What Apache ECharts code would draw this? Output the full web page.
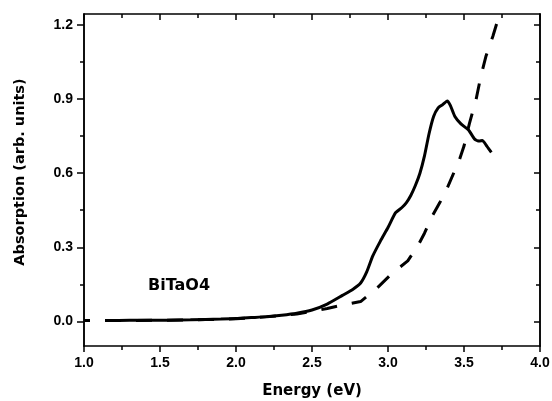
<!DOCTYPE html>
<html>
<head>
<meta charset="utf-8">
<script src="https://cdn.jsdelivr.net/npm/echarts@6/dist/echarts.min.js"></script>
<style>
  html, body { margin: 0; padding: 0; background: #fff; }
  #chart { width: 552px; height: 401px; }
</style>
</head>
<body>
<div id="chart"></div>
<script>
// measured spectrum (solid)
const solidX = [1.15, 1.3, 1.5, 1.7, 1.9, 2.0, 2.1, 2.2, 2.3, 2.4, 2.5, 2.6, 2.7, 2.77, 2.82, 2.86, 2.9, 2.95, 3.0, 3.05, 3.09, 3.12, 3.15, 3.18, 3.21, 3.24, 3.27, 3.3, 3.33, 3.36, 3.39, 3.41, 3.44, 3.48, 3.53, 3.57, 3.6, 3.62, 3.65, 3.68];
const solidY = [0.003, 0.004, 0.004, 0.006, 0.009, 0.011, 0.015, 0.019, 0.025, 0.033, 0.046, 0.07, 0.105, 0.13, 0.155, 0.2, 0.265, 0.325, 0.38, 0.44, 0.46, 0.48, 0.51, 0.55, 0.6, 0.67, 0.76, 0.83, 0.865, 0.878, 0.893, 0.875, 0.83, 0.8, 0.775, 0.738, 0.73, 0.733, 0.71, 0.684];

// calculated spectrum (dashed)
const dashX = [1.0, 1.2, 1.5, 1.8, 2.0, 2.2, 2.4, 2.5, 2.6, 2.7, 2.82, 2.92, 3.02, 3.13, 3.2, 3.24, 3.29, 3.34, 3.39, 3.47, 3.5, 3.535, 3.58, 3.61, 3.645, 3.69, 3.73, 3.76];
const dashY = [0.003, 0.003, 0.004, 0.007, 0.01, 0.018, 0.03, 0.04, 0.052, 0.066, 0.08, 0.13, 0.19, 0.245, 0.31, 0.357, 0.425, 0.48, 0.54, 0.655, 0.71, 0.8, 0.9, 0.99, 1.075, 1.155, 1.236, 1.3];

const yMajorTicks = [0, 0.3, 0.6, 0.9, 1.2];
const yMinorTicks = [0.15, 0.45, 0.75, 1.05];

const chart = echarts.init(document.getElementById('chart'));

const font = 'Liberation Sans, Arial, sans-serif';
const titleFont = 'DejaVu Sans, sans-serif';
const black = '#000';

function yAxis(position, ticks, len, inside, labels) {
  return {
    type: 'value',
    position: position,
    min: -0.1,
    max: 1.245,
    axisLine: { show: true, onZero: false, lineStyle: { color: black, width: 1.5 } },
    axisTick: { show: true, inside: inside, length: len, customValues: ticks, lineStyle: { color: black, width: 1.5 } },
    axisLabel: {
      show: labels,
      customValues: ticks,
      formatter: v => v.toFixed(1),
      color: black, fontFamily: font, fontWeight: 'bold', fontSize: 14, margin: 11
    },
    splitLine: { show: false }
  };
}

const option = {
  animation: false,
  backgroundColor: '#fff',
  grid: { left: 84, right: 12, top: 14, bottom: 55, outerBoundsMode: 'none' },
  xAxis: [
    {
      type: 'value', position: 'bottom', min: 1, max: 4, interval: 0.5,
      name: 'Energy (eV)', nameLocation: 'middle', nameGap: 38,
      nameTextStyle: { color: black, fontFamily: titleFont, fontWeight: 'bold', fontSize: 15 },
      axisLine: { onZero: false, lineStyle: { color: black, width: 1.5 } },
      axisTick: { length: 6, lineStyle: { color: black, width: 1.5 } },
      minorTick: { show: true, splitNumber: 2, length: 4, lineStyle: { color: black, width: 1.5 } },
      axisLabel: { formatter: v => v.toFixed(1), color: black, fontFamily: font, fontWeight: 'bold', fontSize: 14, margin: 10 },
      splitLine: { show: false }
    },
    {
      type: 'value', position: 'top', min: 1, max: 4, interval: 0.5,
      axisLine: { onZero: false, lineStyle: { color: black, width: 1.5 } },
      axisTick: { inside: true, length: 6, lineStyle: { color: black, width: 1.5 } },
      minorTick: { show: true, splitNumber: 2, length: 4, lineStyle: { color: black, width: 1.5 } },
      axisLabel: { show: false },
      splitLine: { show: false }
    }
  ],
  yAxis: [
    Object.assign(yAxis('left', yMajorTicks, 7, false, true), {
      name: 'Absorption (arb. units)', nameLocation: 'middle', nameGap: 56,
      nameTextStyle: { color: black, fontFamily: titleFont, fontWeight: 'bold', fontSize: 14.5, padding: [0, 0, 0, 16] }
    }),
    yAxis('left', yMinorTicks, 4, false, false),
    yAxis('right', yMajorTicks, 6, true, false),
    yAxis('right', yMinorTicks, 4, true, false)
  ],
  graphic: [
    {
      type: 'text', left: 148, top: 278,
      style: { text: 'BiTaO4', fill: black, font: 'bold 16px ' + titleFont }
    }
  ],
  series: [
    {
      type: 'line',
      data: dashX.map((x, i) => [x, dashY[i]]),
      showSymbol: false,
      clip: true,
      lineStyle: { color: black, width: 3, type: [16, 15], dashOffset: 10 }
    },
    {
      type: 'line',
      data: solidX.map((x, i) => [x, solidY[i]]),
      showSymbol: false,
      smooth: 0.2,
      clip: true,
      lineStyle: { color: black, width: 3 }
    }
  ]
};

chart.setOption(option);
</script>
</body>
</html>
